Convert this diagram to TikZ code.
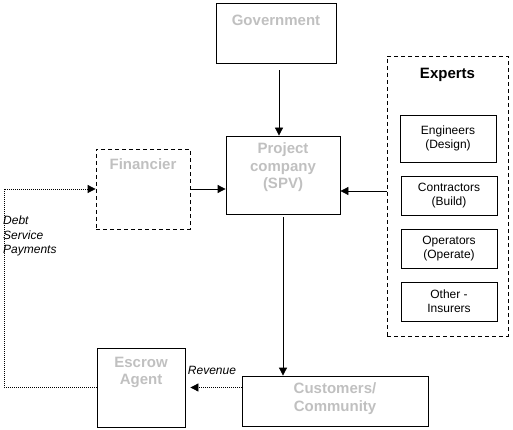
\documentclass[tikz,border=0pt]{standalone}
\usepackage{fontspec}
\setmainfont{Liberation Sans}
\usetikzlibrary{arrows.meta,positioning,calc}
\definecolor{TitleGray}{RGB}{192,192,192}

\begin{document}
\begin{tikzpicture}[x=1pt,y=-1pt,
        box/.style={draw,line width=0.8pt,inner sep=0pt},
        dbox/.style={box,dash pattern=on 4pt off 3pt},
        head/.style={font=\bfseries\fontsize{15}{17.5}\selectfont,text=TitleGray,
                     align=center,inner sep=0pt},
        sub/.style={box,font=\fontsize{12}{14}\selectfont,align=center,
                    minimum width=96pt,minimum height=39pt},
        note/.style={font=\itshape\fontsize{12}{14.5}\selectfont,align=left,inner sep=0pt},
        arr/.style={-{Triangle[length=8pt,width=8pt]},line width=0.8pt},
        dot/.style={line width=0.9pt,dash pattern=on 1pt off 1pt}
      ]
        \useasboundingbox (0,0) rectangle (513,430);
        \node[box,minimum width=120pt,minimum height=60pt] (gov) at (276,33) {};
        \node[box,minimum width=114pt,minimum height=78pt] (spv) at (283,175) {};
        \node[dbox,minimum width=94pt,minimum height=80pt] (fin) at (143,189) {};
        \node[box,minimum width=88pt,minimum height=79pt] (esc) at (141,387.5) {};
        \node[box,minimum width=186pt,minimum height=50pt] (cus) at (335,401) {};
        \node[head,below=12pt of gov.north] (govt) {Government};
        \node[head,below=7pt of spv.north] (spvt) {Project\\company\\(SPV)};
        \node[head,below=10pt of fin.north] (fint) {Financier};
        \node[head,below=9pt of esc.north] (esct) {Escrow\\Agent};
        \node[head,below=7pt of cus.north] (cust) {Customers/\\Community};
        % Experts group
        \node[dbox,minimum width=121pt,minimum height=280pt] (exp) at (447.5,196) {};
        \node[head,text=black,below=12pt of exp.north] (expt) {Experts};
        \node[sub,minimum height=47pt] (eng) at (448,138.5) {Engineers\\(Design)};
        \node[sub] (con) at (449,195.5) {Contractors\\(Build)};
        \node[sub] (ope) at (449,248.5) {Operators\\(Operate)};
        \node[sub] (oth) at (449,301.5) {Other -\\Insurers};
        % Flows
        \draw[arr,shorten <=7pt] ([xshift=3pt]gov.south) -- ([xshift=3pt]gov.south |- spv.north);
        \draw[arr] (fin.east) -- (fin.east -| spv.west);
        \draw[arr] ([yshift=5pt]exp.west) -- ([yshift=5pt]exp.west -| spv.east);
        \draw[arr,shorten <=3pt] (spv.south) -- (spv.south |- cus.north);
        \coordinate (crn) at (4,189);
        \draw[dot,arr,shorten >=5pt] (cus.west |- esc.east) -- (esc.east);
        \draw[dot,arr] (esc.west) -- (esc.west -| crn) |- (fin.west);
        \node[note,anchor=north west] (dsp) at (3,216) {Debt\\Service\\Payments};
        \node[note,anchor=south] (rev) at (212,375) {Revenue};
      \end{tikzpicture}
\end{document}
